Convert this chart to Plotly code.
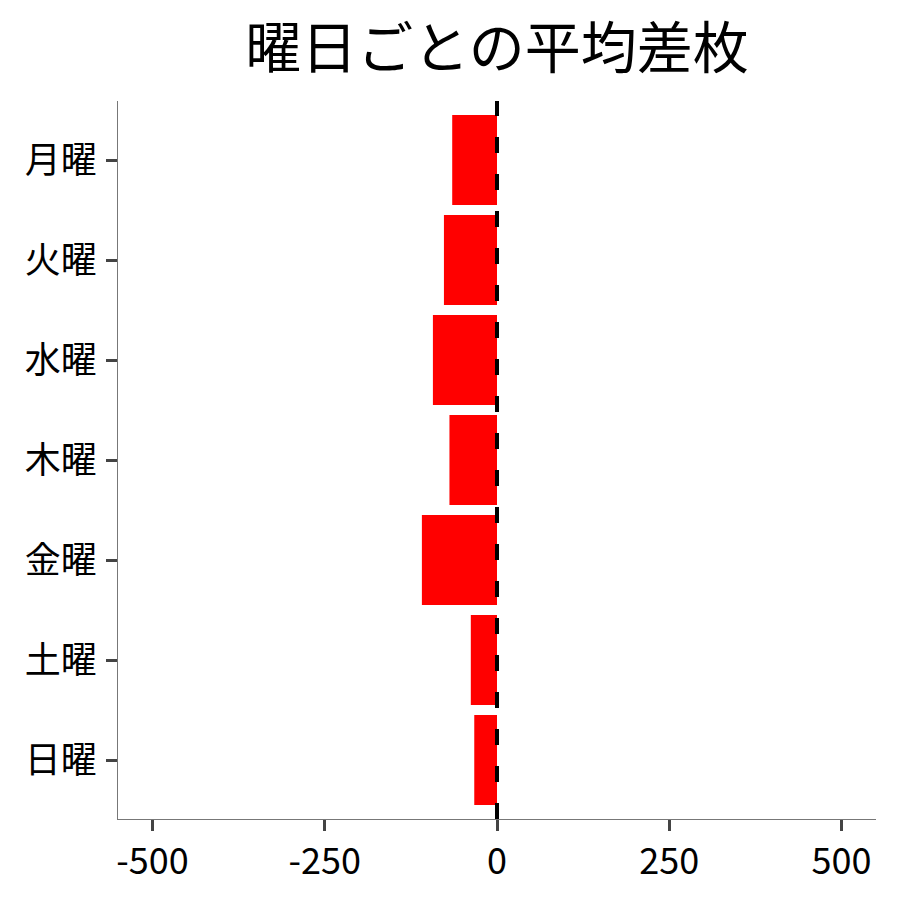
import plotly.graph_objects as go

# Average difference per weekday
days = ["月曜", "火曜", "水曜", "木曜", "金曜", "土曜", "日曜"]
avg_diff = [-65, -77, -93, -69, -109, -38, -33]
x_ticks = [-500, -250, 0, 250, 500]

FONT = "Noto Sans CJK JP"

fig = go.Figure(go.Bar(
    x=avg_diff,
    y=days,
    orientation="h",
    marker=dict(color="#ff0000", line=dict(width=0)),
    width=0.9,
))

# dashed reference line at zero (drawn bottom to top)
fig.add_shape(
    type="line", xref="x", yref="paper",
    x0=0, x1=0, y0=0, y1=1,
    line=dict(color="black", width=4, dash="16px,21px"),
)

fig.update_layout(
    width=900, height=900,
    paper_bgcolor="white", plot_bgcolor="white",
    margin=dict(l=110, r=32, t=93, b=89),
    showlegend=False,
    font=dict(family=FONT, size=36, color="black"),
    title=dict(
        text="曜日ごとの平均差枚",
        x=0.5, xref="paper", xanchor="center",
        y=0.955, yanchor="middle",
        font=dict(family=FONT, size=56, color="black"),
    ),
)

fig.update_xaxes(
    range=[-550, 550],
    tickvals=x_ticks,
    ticktext=[str(v) for v in x_ticks],
    showgrid=False, zeroline=False,
    showline=True, linecolor="#777777", linewidth=1,
    ticks="outside", ticklen=11, tickwidth=3, tickcolor="#444444",
)
fig.update_yaxes(
    autorange=False, range=[6.59, -0.59],
    categoryorder="array", categoryarray=days,
    showgrid=False, zeroline=False,
    showline=True, linecolor="#777777", linewidth=1,
    ticks="outside", ticklen=11, tickwidth=3, tickcolor="#444444",
    ticklabelstandoff=2,
)

fig.write_html("out.html")
